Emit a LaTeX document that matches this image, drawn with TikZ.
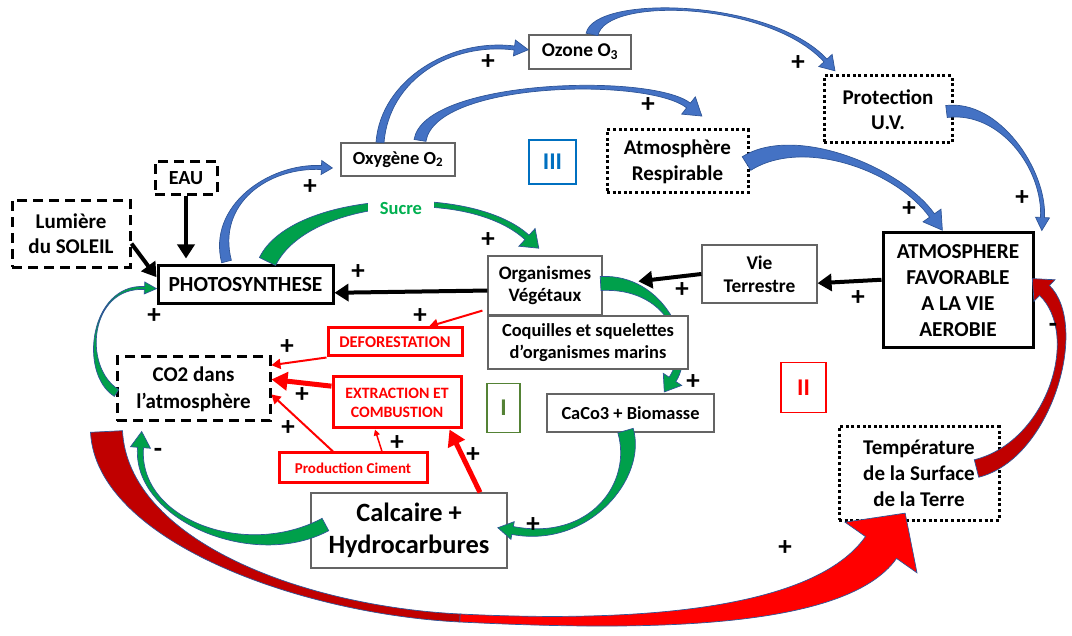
\documentclass[tikz,border=0pt]{standalone}
\usepackage{fontspec}
\setmainfont{Carlito}
\usetikzlibrary{arrows.meta, calc}

\definecolor{arrowblue}{RGB}{68,114,196}
\definecolor{edgeblue}{RGB}{47,85,151}
\definecolor{arrowgreen}{RGB}{0,160,75}
\definecolor{sucregreen}{RGB}{0,176,80}
\definecolor{darkred}{RGB}{192,0,0}
\definecolor{brightred}{RGB}{255,0,0}
\definecolor{numgreen}{RGB}{84,130,53}
\definecolor{numblue}{RGB}{0,112,192}
\definecolor{boxgray}{RGB}{100,100,100}

% curved block arrow: style, start, control 1, control 2, end, half width at start, at end, head half width, head length
\newcommand{\blockarrow}[9]{%
  \path #2 coordinate (ba0) #3 coordinate (ba1) #4 coordinate (ba2) #5 coordinate (ba3);
  \filldraw[#1] ($(ba0)!#6!90:(ba1)$) .. controls ($(ba1)!#6!-90:(ba0)$) and ($(ba2)!#7!90:(ba3)$) .. ($(ba3)!#7!-90:(ba2)$)
    -- ($(ba3)!#8!-90:(ba2)$) -- ($(ba3)!-#9!(ba2)$) -- ($(ba3)!#8!90:(ba2)$)
    -- ($(ba3)!#7!90:(ba2)$) .. controls ($(ba2)!#7!-90:(ba3)$) and ($(ba1)!#6!90:(ba0)$) .. ($(ba0)!#6!-90:(ba1)$) -- cycle;
}

\begin{document}
\begin{tikzpicture}[x=1pt, y=-1pt,
  txt/.style 2 args={font=\bfseries\fontsize{#1}{#2}\selectfont},
  box/.style={draw=boxgray, line width=1.2pt, fill=white, align=center, inner sep=0pt},
  thickbox/.style={draw, line width=3pt, fill=white, align=center, inner sep=0pt},
  dashbox/.style={draw, line width=3pt, dash pattern=on 10pt off 6pt, fill=white, align=center, inner sep=0pt},
  dotbox/.style={draw, line width=3pt, dash pattern=on 3pt off 2.6pt, fill=white, align=center, inner sep=0pt},
  redbox/.style={draw=brightred, text=brightred, line width=3pt, fill=white, align=center, inner sep=0pt},
  numbox/.style={draw=#1, text=#1, line width=1.6pt, inner sep=0pt, font=\bfseries\fontsize{24}{24}\selectfont},
  sign/.style={font=\bfseries\fontsize{27}{27}\selectfont, inner sep=0pt},
  bluearrow/.style={fill=arrowblue, draw=edgeblue, line width=0.7pt},
  greenarrow/.style={fill=arrowgreen, draw=edgeblue, line width=0.7pt},
  darkredarrow/.style={fill=darkred, draw=edgeblue, line width=0.7pt},
  redarrow/.style={fill=brightred, draw=edgeblue, line width=0.7pt},
  blackline/.style={-{Triangle[length=14pt,width=17pt]}, line width=4pt},
  redline/.style={brightred, -{Triangle[length=9pt,width=10pt]}, line width=2pt},
  redthick/.style={brightred, -{Triangle[length=16pt,width=18pt]}, line width=5pt}]

\useasboundingbox (0,0) rectangle (1072,636);

\node[dashbox, txt={21}{25}, minimum width=118pt, minimum height=67pt] (soleil) at (71,234) {Lumière\\du SOLEIL};
\node[dashbox, txt={20}{25}, minimum width=62pt, minimum height=33pt] (eau) at (186,178) {EAU};
\node[thickbox, txt={21.5}{25}, minimum width=175pt, minimum height=38pt] (photo) at (245.5,285) {PHOTOSYNTHESE};
\node[box, txt={18.5}{25}, minimum width=114pt, minimum height=33pt] (oxy) at (398,159.5) {Oxygène O\textsubscript{2}};
\node[box, txt={19.5}{25}, minimum width=102pt, minimum height=34pt] (ozone) at (580,52) {Ozone O\textsubscript{3}};
\node[dotbox, txt={21}{26}, minimum width=141pt, minimum height=63pt] (respi) at (677.5,161.5) {Atmosphère\\Respirable};
\node[dotbox, txt={21}{25}, minimum width=128pt, minimum height=67pt] (protec) at (888,109.5) {Protection\\U.V.};
\node[thickbox, txt={21.3}{26}, minimum width=150pt, minimum height=115pt] (favor) at (958,290.5) {ATMOSPHERE\\FAVORABLE\\A LA VIE\\AEROBIE};
\node[box, txt={19.4}{23}, minimum width=115pt, minimum height=58pt] (vie) at (759.5,274) {Vie\\Terrestre};
\node[box, txt={19}{22}, minimum width=114pt, minimum height=59pt] (vege) at (545,285.5) {Organismes\\Végétaux};
\node[box, txt={18.4}{22}, minimum width=167pt, minimum height=38pt] (caco) at (630.5,413) {CaCo3 + Biomasse};
\node[box, txt={26.4}{32}, minimum width=196pt, minimum height=75pt] (calc) at (409,530.5) {Calcaire +\\Hydrocarbures};
\node[dashbox, txt={21}{27}, minimum width=153pt, minimum height=64pt] (co2) at (193.5,389) {CO2 dans\\l’atmosphère};
\node[redbox, txt={16.4}{19}, minimum width=134pt, minimum height=28pt] (defor) at (395,342) {DEFORESTATION};
\node[redbox, txt={15.8}{19}, minimum width=128pt, minimum height=51pt] (extr) at (397,402.5) {EXTRACTION ET\\COMBUSTION};
\node[redbox, txt={15}{19}, minimum width=148pt, minimum height=30pt] (ciment) at (353,468) {Production Ciment};
\node[dotbox, txt={21}{26}, minimum width=160pt, minimum height=93pt] (temp) at (919,473.5) {Température\\de la Surface\\de la Terre};

% vegetaux -> caco3, passes behind the shells box
\blockarrow{greenarrow}{([xshift=-2pt,yshift=2pt]vege.east)}{(665,280)}{(695,345)}{([xshift=42pt,yshift=14pt]caco.north)}{7pt}{4pt}{11pt}{15pt}
\node[box, txt={18.4}{22}, minimum width=200pt, minimum height=53pt] (coq) at (588,342.5) {Coquilles et squelettes\\d’organismes marins};

% blue loop (III)
\blockarrow{bluearrow}{([xshift=-19pt,yshift=3pt]photo.north)}{(212,205)}{(268,165)}{([xshift=-19pt,yshift=-8pt]oxy.west)}{5pt}{2pt}{7pt}{11pt}
\blockarrow{bluearrow}{([xshift=-18pt]oxy.north)}{(385,80)}{(450,40)}{([xshift=-14pt,yshift=4pt]ozone.west)}{4pt}{2pt}{8pt}{14pt}
\blockarrow{bluearrow}{([xshift=22pt,yshift=2pt]oxy.north)}{(430,80)}{(650,75)}{([xshift=11pt,yshift=23pt]respi.north)}{6pt}{3pt}{11pt}{17pt}
\blockarrow{bluearrow}{([xshift=12pt]ozone.north)}{(600,-5)}{(770,0)}{([xshift=3pt,yshift=14pt]protec.north west)}{6pt}{2pt}{9pt}{14pt}
\blockarrow{bluearrow}{([xshift=-3pt,yshift=-2pt]respi.east)}{(800,130)}{(900,170)}{([xshift=-26pt,yshift=16pt]favor.north)}{8pt}{3pt}{11pt}{18pt}
\blockarrow{bluearrow}{([xshift=-7pt,yshift=-2pt]protec.east)}{(1000,105)}{(1045,170)}{([xshift=8pt,yshift=14pt]favor.north east)}{6pt}{2pt}{7pt}{13pt}

% green loop (I)
\blockarrow{greenarrow}{([xshift=1pt,yshift=-4pt]co2.west)}{(80,370)}{(90,285)}{([xshift=-12pt,yshift=-3pt]photo.west)}{4pt}{1.5pt}{6pt}{12pt}
\blockarrow{greenarrow}{([xshift=22pt,yshift=3pt]photo.north)}{(300,195)}{(470,185)}{([xshift=-18pt,yshift=18pt]vege.north)}{9pt}{3pt}{12pt}{16pt}
\blockarrow{greenarrow}{([xshift=-5pt,yshift=2pt]caco.south)}{(640,480)}{(590,545)}{([xshift=5pt]calc.east)}{8pt}{4pt}{9pt}{15pt}
\blockarrow{greenarrow}{([xshift=15pt,yshift=6pt]calc.west)}{(250,565)}{(135,520)}{([xshift=25pt,yshift=-25pt]co2.south west)}{7pt}{3pt}{10pt}{16pt}

% red loop (II)
\coordinate (bend) at (460,618);
\blockarrow{darkredarrow}{([xshift=-9pt,yshift=-9pt]co2.south west)}{(112,540)}{(300,610)}{(bend)}{16pt}{4pt}{4pt}{0pt}
\blockarrow{redarrow}{(bend)}{(640,627)}{(830,620)}{([xshift=-38pt,yshift=-26pt]temp.south)}{4pt}{19pt}{44pt}{42pt}
\blockarrow{darkredarrow}{([xshift=-24pt,yshift=5pt]temp.east)}{(1050,450)}{(1085,330)}{([xshift=10pt]favor.east)}{9pt}{7pt}{15pt}{17pt}

\node[txt={18.5}{20}, text=sucregreen, fill=white, inner xsep=12pt, inner ysep=3pt] (sucre) at (401,209) {Sucre};

\path[blackline]
(soleil.-9) edge (photo.175)
(eau.south) edge[shorten >=6pt] (eau.south |- photo.north)
(vege.185) edge (photo.-5)
(vie.west) edge[shorten >=36pt] (vege.east)
(favor.172) edge (vie.-9);

\path[redline]
([xshift=-5pt,yshift=5pt]vege.south west) edge ([xshift=34pt]defor.north)
(defor.south west) edge (co2.17)
([xshift=-20pt]ciment.north) edge (co2.-4);
\draw[redline, line width=1.5pt, -{Triangle[length=6pt,width=6pt]}] ([xshift=29pt]ciment.north) -- ([xshift=-22pt]extr.south);
\path[redthick]
(extr.166) edge (co2.7)
([xshift=71pt]calc.north) edge ([xshift=-13pt]extr.south east);

\node[numbox=numgreen, minimum width=33pt, minimum height=49pt] (lab1) at (503.5,408) {I};
\node[numbox=brightred, minimum width=45pt, minimum height=50pt] (lab2) at (803.5,387.5) {II};
\node[numbox=numblue, minimum width=47pt, minimum height=44pt] (lab3) at (552.5,162) {III};

\foreach \x/\y [count=\i] in {488/62, 798/63, 648/105, 310/187, 488/240, 358/272, 154/316, 909/209,
  1022/198, 682/290, 858/298, 420/316, 287/347, 302/395, 288/428, 397/443, 473/455, 693/382, 533/525, 785/548}
  \node[sign] (plus\i) at (\x,\y) {+};
\node[sign] (minus1) at (1053,328) {-};
\node[sign] (minus2) at (158,453) {-};
\end{tikzpicture}
\end{document}
